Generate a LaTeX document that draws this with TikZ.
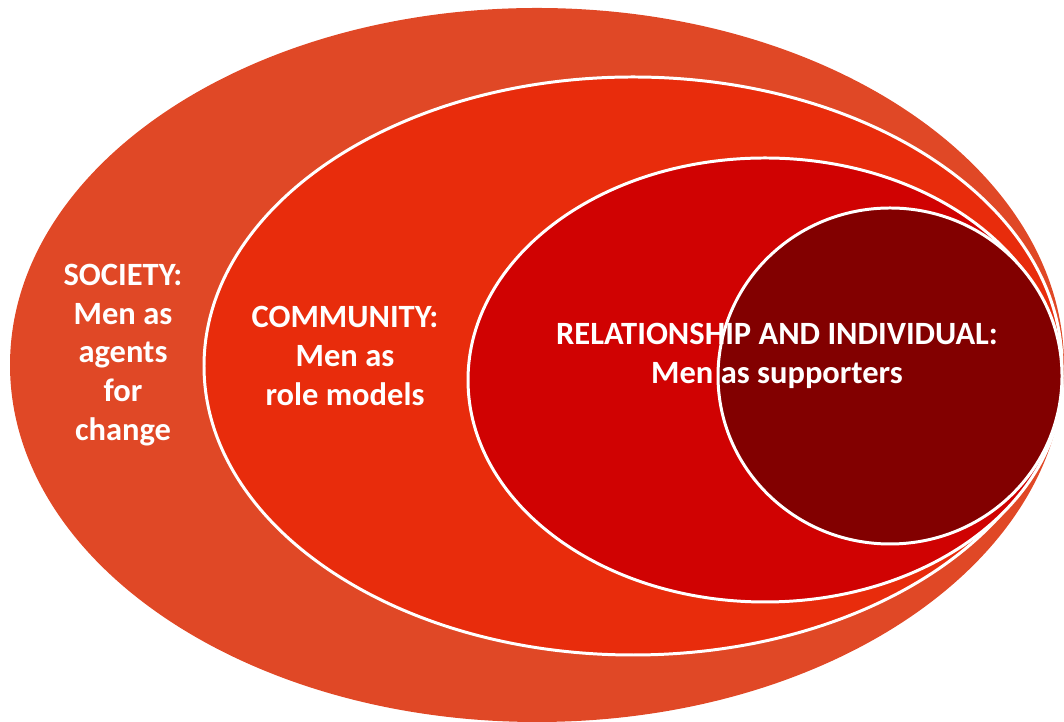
\documentclass[tikz,border=0pt]{standalone}
\usepackage{fontspec}
\setmainfont{Carlito}
\usepackage{tikz}

\begin{document}
\begin{tikzpicture}[x=0.02cm,y=0.02cm]

% Colori
\definecolor{colSoc}{HTML}{E04826}
\definecolor{colCom}{HTML}{E82C0C}
\definecolor{colRel}{HTML}{D00202}
\definecolor{colInd}{HTML}{820000}

\tikzset{
  ring/.style={draw=white, line width=1.7pt},
  lbl/.style={text=white, font=\fontsize{18.5}{22}\selectfont\bfseries, align=center}
}

\useasboundingbox (0,0) rectangle (1064,722);

% Ellissi
\fill[colSoc] (537,357) ellipse [x radius=527, y radius=357];
\path[fill=colCom, ring] (633,356) ellipse [x radius=429, y radius=289];
\path[fill=colRel, ring] (765,342) ellipse [x radius=297, y radius=222];
\path[fill=colInd, ring] (890,346) ellipse [x radius=172, y radius=168];

% Etichette
\node[lbl] (society) at (123,367) {SOCIETY:\\Men as\\agents\\for\\change};
\node[lbl] (community) at (345,366) {COMMUNITY:\\Men as\\role models};
\node[lbl] (relation) at (777,366) {RELATIONSHIP AND INDIVIDUAL:\\Men as supporters};

\end{tikzpicture}
\end{document}
